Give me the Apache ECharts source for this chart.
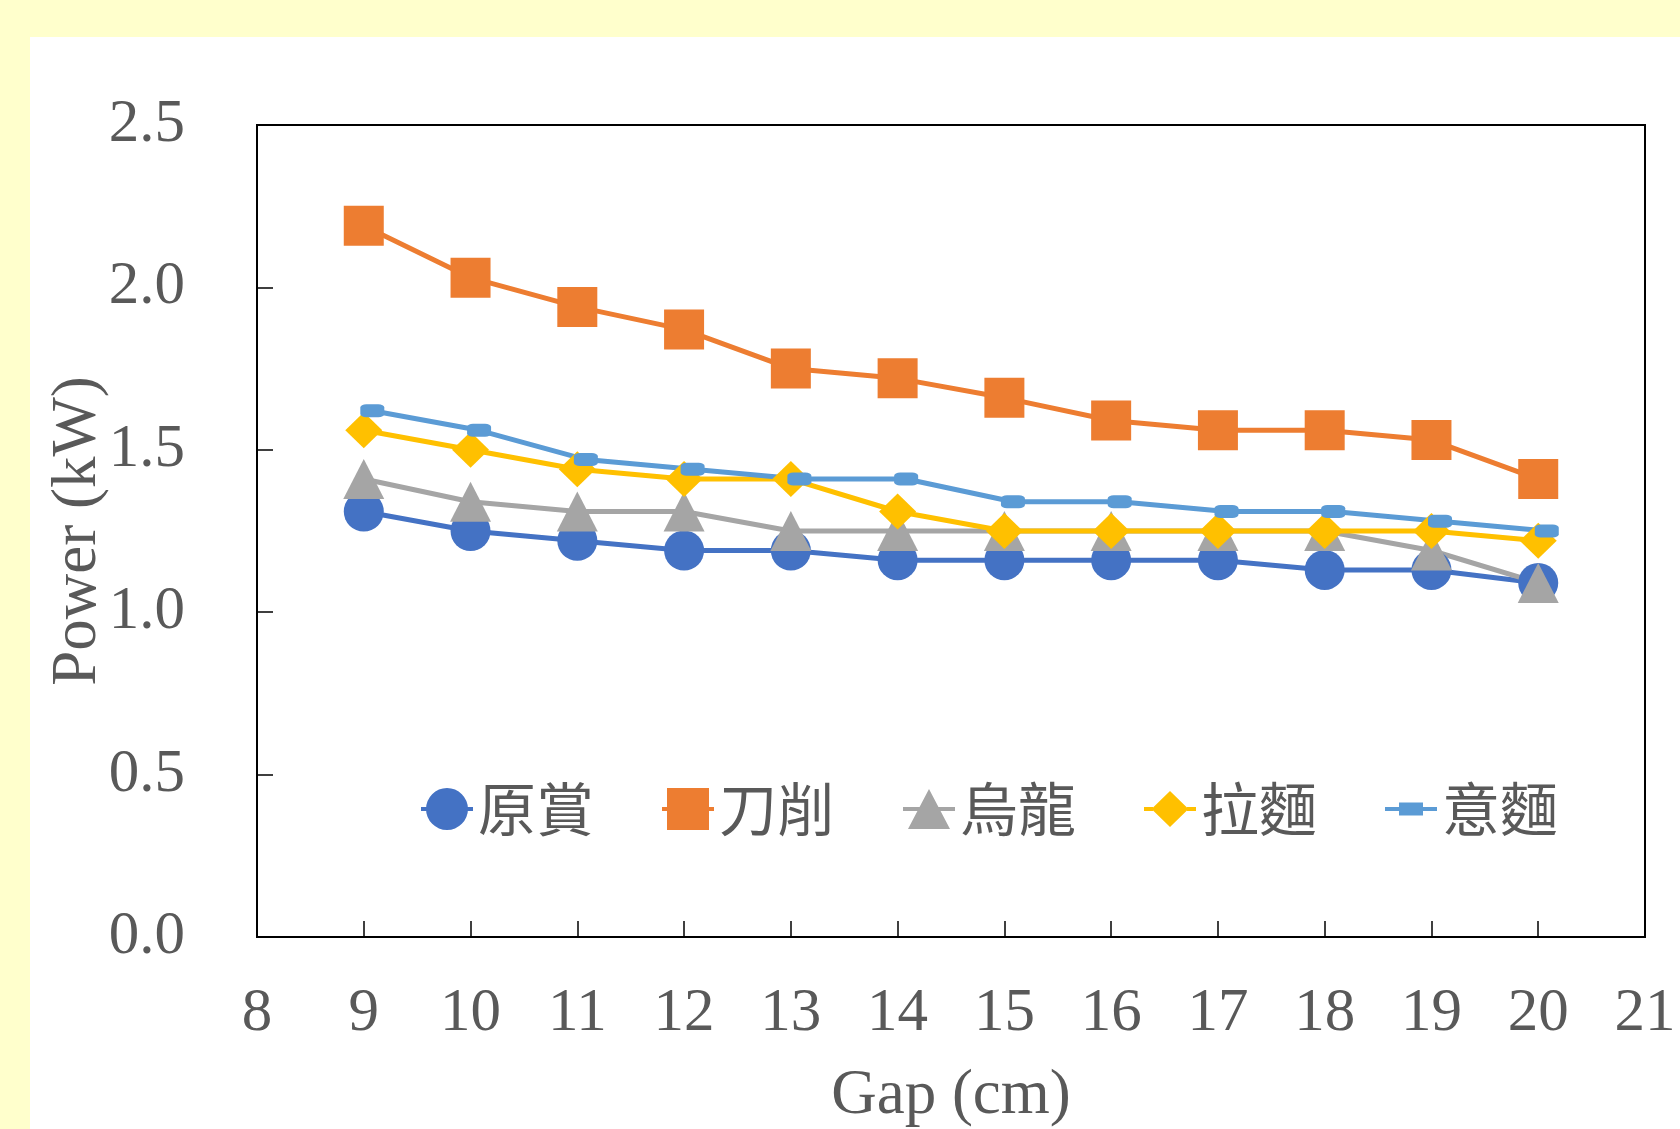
<!DOCTYPE html>
<html>
<head>
<meta charset="utf-8">
<script src="https://cdn.jsdelivr.net/npm/echarts@6/dist/echarts.min.js"></script>
<style>
  html, body { margin: 0; padding: 0; background: #FFFFCC; width: 1680px; height: 1129px; overflow: hidden; }
  #chart { position: absolute; left: 30px; top: 37px; width: 1650px; height: 1092px; background: #FFFFFF; }
</style>
</head>
<body>
<div id="chart"></div>
<script>
// Gap (cm) positions of the measurements
const gap = [9, 10, 11, 12, 13, 14, 15, 16, 17, 18, 19, 20];
// the 意麵 series was recorded at slightly shifted gap positions
const gapYimian = [9.08, 10.08, 11.08, 12.08, 13.08, 14.08, 15.08, 16.08, 17.08, 18.08, 19.08, 20.08];

// Power (kW) per noodle type
const yuanShang = [1.31, 1.25, 1.22, 1.19, 1.19, 1.16, 1.16, 1.16, 1.16, 1.13, 1.13, 1.09];
const daoXiao   = [2.19, 2.03, 1.94, 1.87, 1.75, 1.72, 1.66, 1.59, 1.56, 1.56, 1.53, 1.41];
const wuLong    = [1.41, 1.34, 1.31, 1.31, 1.25, 1.25, 1.25, 1.25, 1.25, 1.25, 1.19, 1.09];
const laMian    = [1.56, 1.50, 1.44, 1.41, 1.41, 1.31, 1.25, 1.25, 1.25, 1.25, 1.25, 1.22];
const yiMian    = [1.62, 1.56, 1.47, 1.44, 1.41, 1.41, 1.34, 1.34, 1.31, 1.31, 1.28, 1.25];

const seriesNames = ['原賞', '刀削', '烏龍', '拉麵', '意麵'];
const colors = ['#4472C4', '#ED7D31', '#A5A5A5', '#FFC000', '#5B9BD5'];

const yTicks = { min: 0, max: 2.5, interval: 0.5 };
const xTicks = { min: 8, max: 21, interval: 1 };

const pairs = (xs, ys) => ys.map((y, i) => [xs[i], y]);

// legend keys: a short line with the marker in the middle
const legendIcons = [
  'path://M0 19 H6 V23 H0 Z M5 21 A21 21 0 1 1 47 21 A21 21 0 1 1 5 21 Z M46 19 H52 V23 H46 Z',
  'path://M0 19 H6 V23 H0 Z M5 0 H47 V42 H5 Z M46 19 H52 V23 H46 Z',
  'path://M0 18 H17 V22 H0 Z M26 0 L47 40 L5 40 Z M35 18 H52 V22 H35 Z',
  'path://M0 16 H9 V20 H0 Z M26 0 L44.5 18 L26 36 L7.5 18 Z M43 16 H52 V20 H43 Z',
  'path://M0 4.5 H15 V8.5 H0 Z M14 0 H38 V13 H14 Z M37 4.5 H52 V8.5 H37 Z'
];

const symbols = [
  { symbol: 'circle', size: 40 },
  { symbol: 'rect', size: 40 },
  { symbol: 'triangle', size: [41, 40] },
  { symbol: 'diamond', size: [37, 36] },
  { symbol: 'roundRect', size: [24, 13] }
];

const dataSets = [
  pairs(gap, yuanShang),
  pairs(gap, daoXiao),
  pairs(gap, wuLong),
  pairs(gap, laMian),
  pairs(gapYimian, yiMian)
];

const labelColor = '#595959';
const serif = '"Liberation Serif", "Times New Roman", serif';

const chart = echarts.init(document.getElementById('chart'), null, { renderer: 'canvas' });

chart.setOption({
  animation: false,
  backgroundColor: 'transparent',
  grid: {
    left: 227, top: 88, width: 1388, height: 812,
    outerBoundsMode: 'none', containLabel: false,
    show: true, borderColor: '#000', borderWidth: 2, backgroundColor: 'transparent'
  },
  legend: {
    left: 391, top: 742,
    padding: 0,
    itemWidth: 52, itemHeight: 42, itemGap: 68,
    data: seriesNames.map((n, i) => ({ name: n, icon: legendIcons[i] })),
    itemStyle: { borderWidth: 0 },
    textStyle: {
      color: labelColor, fontSize: 58, lineHeight: 60,
      fontFamily: '"Noto Sans CJK TC", "Noto Sans CJK SC", sans-serif'
    }
  },
  xAxis: {
    type: 'value',
    min: xTicks.min, max: xTicks.max, interval: xTicks.interval,
    name: 'Gap (cm)', nameLocation: 'middle', nameGap: 128,
    nameTextStyle: { color: labelColor, fontSize: 63, fontFamily: serif },
    axisLine: { show: true, onZero: false, lineStyle: { color: '#000', width: 2 } },
    axisTick: { show: true, inside: true, length: 16, lineStyle: { color: '#000', width: 1.5 } },
    axisLabel: { color: labelColor, fontSize: 61, fontFamily: serif, margin: 46 },
    splitLine: { show: false }
  },
  yAxis: {
    type: 'value',
    min: yTicks.min, max: yTicks.max, interval: yTicks.interval,
    name: 'Power (kW)', nameLocation: 'middle', nameGap: 147, nameMoveOverlap: false,
    nameTextStyle: { color: labelColor, fontSize: 63, fontFamily: serif },
    axisLine: { show: true, lineStyle: { color: '#000', width: 2 } },
    axisTick: { show: true, inside: true, length: 16, lineStyle: { color: '#000', width: 1.5 } },
    axisLabel: {
      color: labelColor, fontSize: 61, fontFamily: serif, margin: 72,
      formatter: v => v.toFixed(1)
    },
    splitLine: { show: false }
  },
  series: seriesNames.map((n, i) => ({
    name: n,
    type: 'line',
    data: dataSets[i],
    color: colors[i],
    symbol: symbols[i].symbol,
    symbolSize: symbols[i].size,
    showSymbol: true,
    lineStyle: { color: colors[i], width: 5 },
    itemStyle: { color: colors[i], borderWidth: 0 },
    emphasis: { disabled: true }
  }))
});
</script>
</body>
</html>
